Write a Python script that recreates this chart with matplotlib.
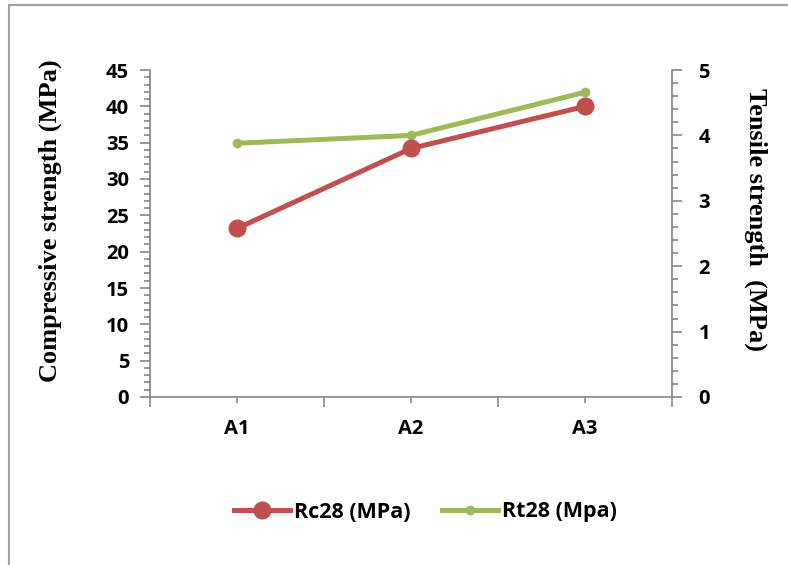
import matplotlib.pyplot as plt
from matplotlib.patches import Rectangle
from matplotlib.ticker import MultipleLocator, FixedLocator

# Strength results per mix
mixes = ["A1", "A2", "A3"]
rc28 = [23.2, 34.2, 40.0]   # compressive strength, MPa
rt28 = [3.88, 4.0, 4.66]    # tensile strength, MPa

RED = "#C0504D"
GREEN = "#9BBB59"
AXIS_GREY = "#868686"
LABEL_FONT = "Liberation Serif"

plt.rcParams["font.family"] = ["Open Sans", "DejaVu Sans"]
plt.rcParams["font.weight"] = "bold"
plt.rcParams["font.size"] = 14.5

fig = plt.figure(figsize=(7.88, 5.65), dpi=100)
ax = fig.add_axes([150 / 788, 1 - 397 / 565, 522 / 788, 327 / 565])
ax2 = ax.twinx()

x = list(range(len(mixes)))
ax.plot(x, rc28, color=RED, lw=3.6, marker="o", ms=12, label="Rc28 (MPa)", zorder=3)
ax2.plot(x, rt28, color=GREEN, lw=3.6, marker="o", ms=6, label="Rt28 (Mpa)", zorder=2)
ax.set_zorder(ax2.get_zorder() + 1)
ax.patch.set_visible(False)

ax.set_xlim(-0.5, len(mixes) - 0.5)
ax.set_ylim(0, 45)
ax2.set_ylim(0, 5)

ax.yaxis.set_major_locator(MultipleLocator(5))
ax.yaxis.set_minor_locator(MultipleLocator(1))
ax2.yaxis.set_major_locator(MultipleLocator(1))
ax2.yaxis.set_minor_locator(MultipleLocator(0.2))

# category axis: long ticks between groups, short ticks at the groups
ax.xaxis.set_major_locator(FixedLocator([i - 0.5 for i in range(len(mixes) + 1)]))
ax.set_xticklabels([])
ax.set_xticks(x, minor=True)
ax.set_xticklabels(mixes, minor=True)

for a in (ax, ax2):
    for side in a.spines:
        a.spines[side].set_visible(False)
    a.tick_params(which="both", colors=AXIS_GREY, labelcolor="black",
                  width=1.2, direction="out", labelsize=14.5)
    a.tick_params(which="major", length=7)
    a.tick_params(which="minor", length=4)

ax.spines["left"].set_visible(True)
ax.spines["bottom"].set_visible(True)
ax2.spines["right"].set_visible(True)
for s in (ax.spines["left"], ax.spines["bottom"], ax2.spines["right"]):
    s.set_color(AXIS_GREY)
    s.set_linewidth(1.2)

ax.tick_params(axis="y", which="major", pad=8)
ax.tick_params(axis="x", which="minor", pad=12)
ax2.tick_params(axis="y", which="major", pad=12)

fig.text(50 / 788, 1 - 221 / 565, "Compressive strength (MPa)", rotation=90,
         ha="center", va="center", fontfamily=LABEL_FONT, fontweight="bold", fontsize=19)
fig.text(756 / 788, 1 - 220 / 565, "Tensile strength  (MPa)", rotation=-90,
         ha="center", va="center", fontfamily=LABEL_FONT, fontweight="bold", fontsize=19)

handles = ax.get_lines() + ax2.get_lines()
fig.legend(handles, [h.get_label() for h in handles], loc="center",
           bbox_to_anchor=(0.54, 1 - 512 / 565), ncol=2, frameon=False,
           handlelength=2.6, columnspacing=1.5, handletextpad=0.15,
           prop={"weight": "bold", "size": 15.5})

# outer chart border
fig.patches.append(Rectangle((9 / 788, -0.05), 1.0, 1 - 5 / 565 + 0.05,
                             transform=fig.transFigure, fill=False,
                             edgecolor="#A0A0A0", lw=1.5))

fig.savefig("out.png", dpi=100)
